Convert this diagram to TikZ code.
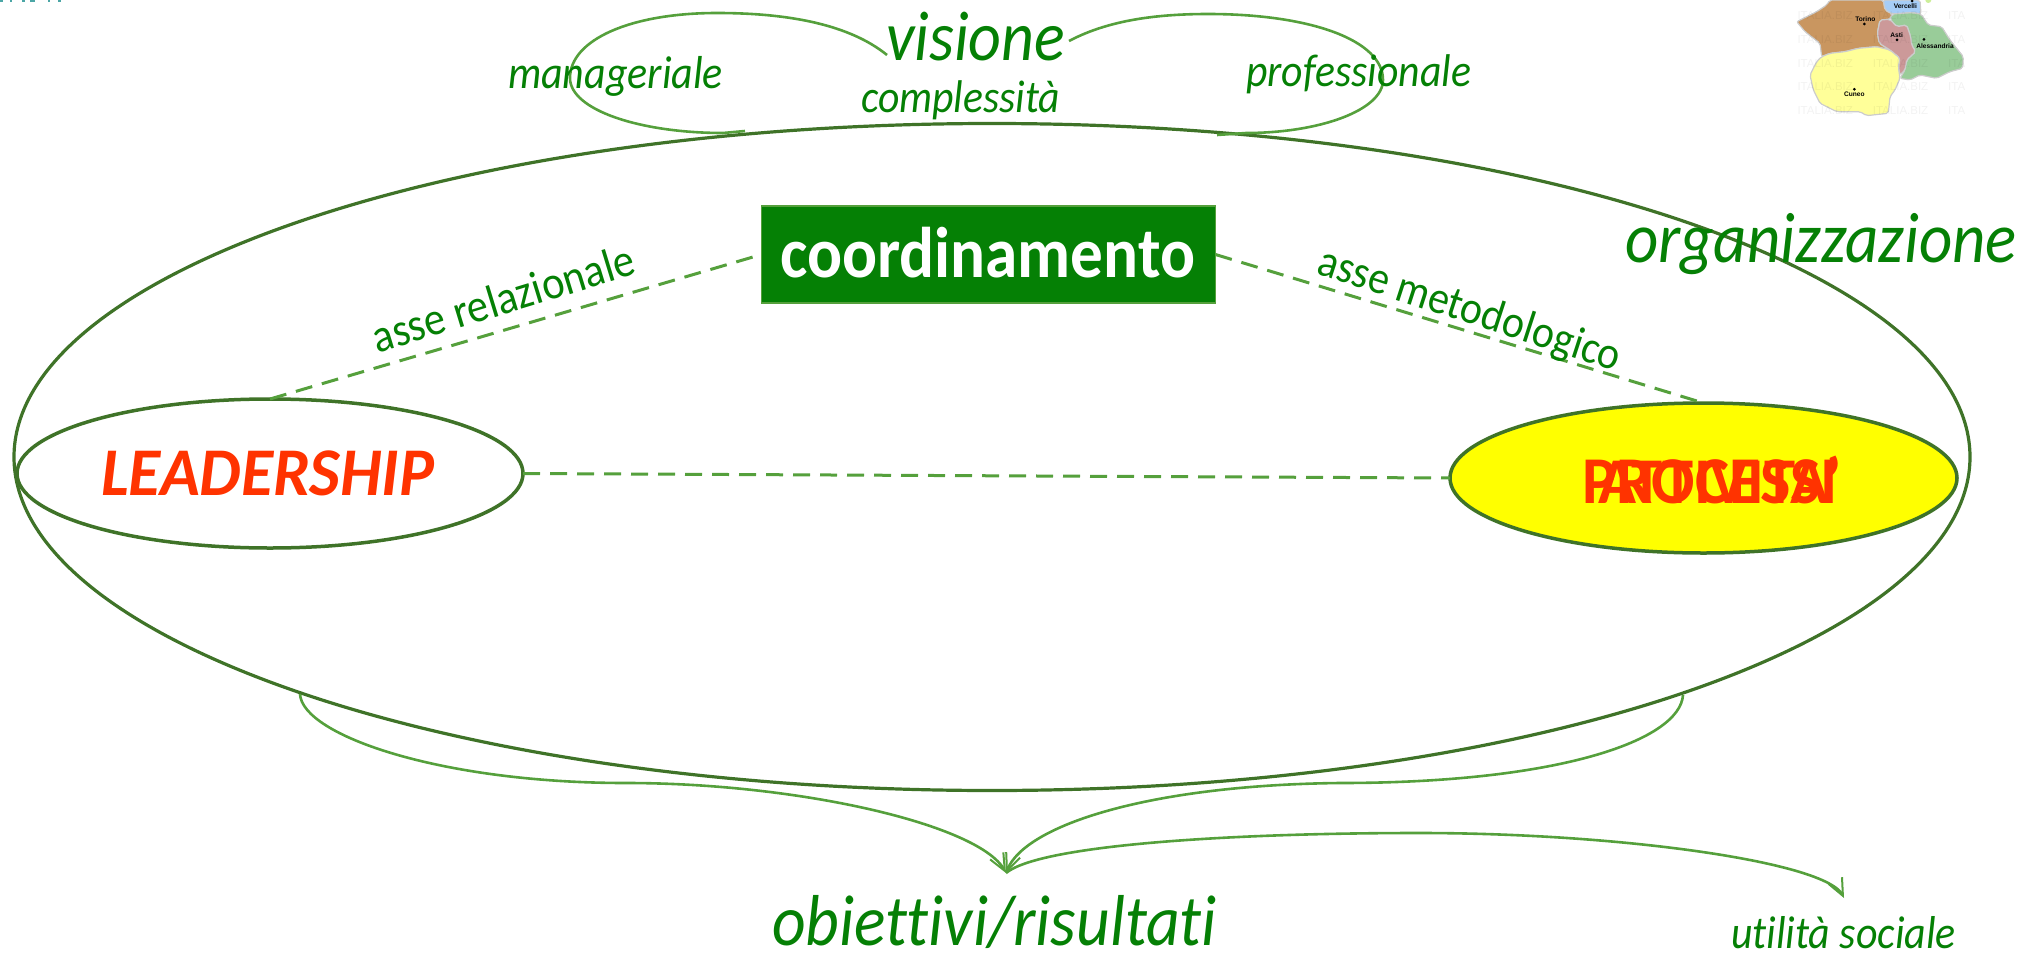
\documentclass[tikz,border=0pt]{standalone}
\usepackage{fontspec}
\usepackage{graphicx}
\setmainfont[Ligatures=NoCommon]{Carlito}
\newfontfamily\mapfont{Liberation Sans}
\usetikzlibrary{shapes.geometric,arrows.meta}
\definecolor{txtgreen}{HTML}{058005}
\definecolor{darkline}{HTML}{3F7328}
\definecolor{thinline}{HTML}{55A03C}
\definecolor{redtxt}{HTML}{FF3300}
\definecolor{pureyellow}{HTML}{FFFF00}
\definecolor{torinocol}{HTML}{C99660}
\definecolor{vercol}{HTML}{A6CDF7}
\definecolor{alecol}{HTML}{99CC99}
\definecolor{asticol}{HTML}{CC9999}
\definecolor{cuncol}{HTML}{FFFF99}
\definecolor{dotgreen}{HTML}{CCEE99}
\newcommand{\fitw}[3]{\scalebox{1}[1.1]{\resizebox{#1pt}{!}{\fontsize{#2pt}{#2pt}\selectfont #3}}}
\newcommand{\fitc}[3]{\scalebox{1}[1.04]{\resizebox{#1pt}{!}{\fontsize{#2pt}{#2pt}\selectfont #3}}}
\tikzset{
  x=1pt,y=-1pt,
  lab/.style={inner sep=0,outer sep=0,anchor=base west,text=txtgreen,font=\itshape},
  axis lab/.style={inner sep=0,outer sep=0,anchor=center,text=txtgreen},
  red lab/.style={inner sep=0,outer sep=0,anchor=base west,text=redtxt},
  blob/.style={draw=darkline,line width=3.5pt,ellipse,inner sep=0,outer sep=0,minimum width=506pt,minimum height=149pt},
  thin curve/.style={draw=thinline,line width=2.6pt},
  arrowed/.style={thin curve,-{Straight Barb[length=17pt,width=15pt,line width=2pt]}},
  axis line/.style={draw=thinline,line width=3pt,dash pattern=on 17pt off 10pt},
  region/.style={draw=black!20,line width=1.2pt,rounded corners=2pt},
  map lab/.style={inner sep=0,font=\mapfont\bfseries\fontsize{6.6pt}{7pt}\selectfont,text=black},
  water/.style={inner sep=0,anchor=base west,font=\mapfont\fontsize{11.5pt}{12pt}\selectfont,text=black,opacity=.05},
  map dot/.style={fill=black,circle,inner sep=0,minimum size=3pt},
}
\begin{document}
\begin{tikzpicture}
\useasboundingbox (0,0) rectangle (2022,953);
% tiny cut-off fragments at top left
\foreach \a/\b in {0/3,10/12,22/25,30/35,48/50,58/61}
  \fill[teal!70] (\a,0) rectangle (\b,1.5);
% big ellipse
\node[draw=darkline,line width=3.2pt,ellipse,inner sep=0,outer sep=0,minimum width=1956pt,minimum height=667pt] (org) at (992,457) {};
% top arcs
\coordinate (la) at (887,55);
\coordinate (lb) at (745,131);
\coordinate (ra) at (1069,41);
\coordinate (rb) at (1217,135);
\draw[thin curve] (la) .. controls (850,25) and (790,13) .. (717,13) .. controls (630,13) and (570,40) .. (570,78) .. controls (570,110) and (640,133) .. (723,133) -- (lb);
\draw[thin curve] (ra) .. controls (1105,22) and (1150,14) .. (1208,14) .. controls (1310,14) and (1383,40) .. (1383,80) .. controls (1383,110) and (1320,133) .. (1246,133) -- (rb);
% main nodes
\node[fill=txtgreen,draw=thinline,line width=1.5pt,inner sep=0,outer sep=0,minimum width=454pt,minimum height=97pt] (coord) at (988.5,254.5) {};
\node[blob,fill=white] (lead) at (270,473.5) {};
\node[blob,fill=pureyellow,minimum width=507pt,minimum height=150pt] (proc) at (1703.5,478) {};
% axes
\draw[axis line] (lead.north) -- (coord.west);
\draw[axis line] (coord.east) -- (proc.north);
\draw[axis line] (lead.east) -- (proc.west);
% lower curves
\coordinate (tip) at (1006,873);
\coordinate (lc) at (300,694);
\coordinate (rc) at (1683,695);
\coordinate (ut) at (1844,898);
\draw[arrowed] (lc) .. controls (302,735) and (440,783) .. (626,783) .. controls (800,783) and (980,825) .. (tip);
\draw[arrowed] (rc) .. controls (1680,740) and (1560,783) .. (1340,783) .. controls (1150,785) and (1025,825) .. (tip);
\draw[arrowed] (tip) .. controls (1040,845) and (1230,833) .. (1419,833) .. controls (1620,833) and (1826,862) .. (ut);
% texts
\node[lab] (tvis) at (886,60) {\fitw{179}{68}{visione}};
\node[lab] (tman) at (508,88) {\fitw{215}{42}{manageriale}};
\node[lab] (tcom) at (861,112) {\fitw{199}{42}{complessità}};
\node[lab] (tpro) at (1246,86) {\fitw{225}{42}{professionale}};
\node[lab] (torg) at (1625,262) {\fitw{392}{66}{organizzazione}};
\node[lab] (tobi) at (772,945) {\fitw{445}{66}{obiettivi/risultati}};
\node[lab] (tuti) at (1731,948) {\fitw{225}{42}{utilità sociale}};
\node[inner sep=0,outer sep=0,anchor=base west,text=white,font=\bfseries] (tcoo) at (780,277) {\fitw{415}{66}{coordinamento}};
\node[red lab,font=\bfseries\itshape] (tlea) at (101,495) {\fitc{333}{64}{LEADERSHIP}};
\node[red lab,font=\bfseries] (tpr1) at (1582,503) {\fitc{256}{64}{PROCESSI}};
\node[red lab,font=\bfseries] (tpr2) at (1598,503) {\fitc{244}{64}{ATTIVITA'}};
\node[axis lab,rotate=17] (tar) at (503,298) {\fitw{272}{42}{asse relazionale}};
\node[axis lab,rotate=-18] (tam) at (1469,311) {\fitw{316}{42}{asse metodologico}};
% map
\begin{scope}[shift={(1720,0)},x=0.3333pt,y=-0.3333pt]
\fill[dotgreen] (625,0) circle (9);
\filldraw[region,fill=torinocol] (330,0) -- (490,0) -- (495,30) -- (517,42) -- (510,58) -- (480,60) -- (472,100) -- (478,130) -- (510,150) -- (470,140) -- (415,145) -- (375,155) -- (330,160) -- (305,170) -- (300,130) -- (255,95) -- (230,65) -- (290,35) -- (320,15) -- cycle;
\filldraw[region,fill=vercol] (490,0) -- (600,0) -- (603,42) -- (575,38) -- (517,42) -- (495,30) -- cycle;
\filldraw[region,fill=alecol] (517,42) -- (575,38) -- (603,42) -- (625,75) -- (665,80) -- (690,120) -- (730,170) -- (728,205) -- (690,215) -- (650,235) -- (600,225) -- (570,240) -- (540,235) -- (555,210) -- (560,180) -- (587,155) -- (575,135) -- (572,110) -- (560,75) -- (530,80) -- (510,58) -- cycle;
\filldraw[region,fill=asticol] (480,60) -- (510,58) -- (530,80) -- (560,75) -- (572,110) -- (575,135) -- (587,155) -- (560,180) -- (555,210) -- (540,225) -- (535,200) -- (540,175) -- (510,150) -- (478,130) -- (472,100) -- cycle;
\filldraw[region,fill=cuncol] (305,170) -- (330,160) -- (375,155) -- (415,145) -- (470,140) -- (510,150) -- (540,175) -- (535,200) -- (540,235) -- (525,270) -- (510,290) -- (505,340) -- (440,347) -- (420,335) -- (350,335) -- (300,310) -- (280,270) -- (270,225) -- (290,185) -- cycle;
\node[map dot] (d1) at (433,72) {};
\node[map dot] (d2) at (576,3) {};
\node[map dot] (d3) at (531,120) {};
\node[map dot] (d4) at (612,118) {};
\node[map dot] (d5) at (403,268) {};
\node[map lab] (m1) at (436,56) {Torino};
\node[map lab] (m2) at (556,19) {Vercelli};
\node[map lab] (m3) at (530,104) {Asti};
\node[map lab] (m4) at (645,138) {Alessandria};
\node[map lab] (m5) at (403,283) {Cuneo};
\foreach \r/\yy in {1/60,2/131,3/202,4/273,5/344} {
  \node[water] (wa\r) at (232,\yy) {ITALIA.BIZ};
  \node[water] (wb\r) at (458,\yy) {ITALIA.BIZ};
  \node[water] (wc\r) at (684,\yy) {ITA};
}
\end{scope}
\end{tikzpicture}
\end{document}
